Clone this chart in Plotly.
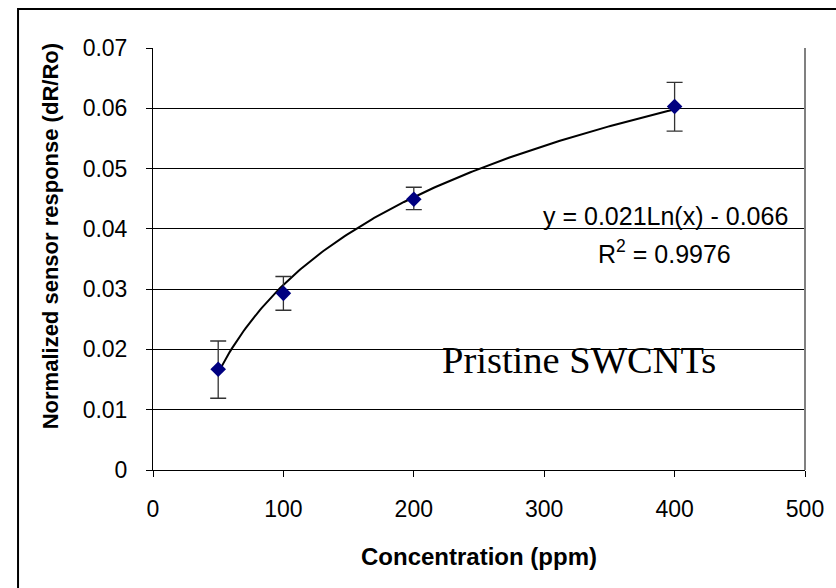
import numpy as np
import plotly.graph_objects as go

conc = [50, 100, 200, 400]
response = [0.0167, 0.0293, 0.0449, 0.0603]
err_plus = [0.0047, 0.0028, 0.0020, 0.0040]
err_minus = [0.0048, 0.0028, 0.0017, 0.0041]
fit_a = 0.021
fit_b = -0.066
y_ticks = [0, 0.01, 0.02, 0.03, 0.04, 0.05, 0.06, 0.07]
y_labels = ["0", "0.01", "0.02", "0.03", "0.04", "0.05", "0.06", "0.07"]
x_ticks = [0, 100, 200, 300, 400, 500]

fx = np.linspace(min(conc), max(conc), 200)
fy = fit_a * np.log(fx) + fit_b

fig = go.Figure()
fig.add_trace(go.Scatter(x=fx, y=fy, mode="lines",
                         line=dict(color="black", width=2), showlegend=False,
                         hoverinfo="skip"))
fig.add_trace(go.Scatter(
    x=conc, y=response, mode="markers",
    marker=dict(symbol="diamond", size=12, color="#000080"),
    error_y=dict(type="data", symmetric=False, array=err_plus,
                 arrayminus=err_minus, color="#333333", thickness=1.3, width=8),
    showlegend=False))

font_main = "Liberation Sans, Arial, sans-serif"
fig.update_layout(
    width=836, height=588,
    margin=dict(l=153, r=27, t=48, b=118),
    paper_bgcolor="white", plot_bgcolor="white",
    font=dict(family=font_main, size=23, color="black"),
    xaxis=dict(range=[0, 500], tickvals=x_ticks, ticks="outside", ticklen=6,
               tickcolor="black", showline=True, linecolor="black", linewidth=1,
               showgrid=False, zeroline=False, ticklabelstandoff=12,
               tickfont=dict(size=23)),
    yaxis=dict(range=[0, 0.07], tickvals=y_ticks, ticktext=y_labels,
               ticks="outside", ticklen=6, tickcolor="black",
               showline=True, linecolor="black", linewidth=1,
               showgrid=True, gridcolor="black", gridwidth=1, zeroline=False,
               ticklabelstandoff=14, tickfont=dict(size=23)),
    shapes=[
        dict(type="line", xref="paper", yref="paper", x0=1, x1=1, y0=0, y1=1,
             line=dict(color="#808080", width=2)),
        dict(type="rect", xref="paper", yref="paper", x0=-0.207, x1=1.2,
             y0=-0.5, y1=1.0924, line=dict(color="black", width=2)),
    ],
    annotations=[
        dict(x=0.5, y=-0.206, xref="paper", yref="paper", xanchor="center",
             yanchor="middle", showarrow=False,
             text="<b>Concentration (ppm)</b>", font=dict(size=24)),
        dict(x=-0.157, y=0.553, xref="paper", yref="paper", xanchor="center",
             yanchor="middle", showarrow=False, textangle=-90,
             text="<b>Normalized sensor response (dR/Ro)</b>", font=dict(size=22)),
        dict(x=0.977, y=0.0421, xref="paper", yref="y", xanchor="right",
             yanchor="middle", showarrow=False,
             text="y = 0.021Ln(x) - 0.066", font=dict(size=25)),
        dict(x=0.785, y=0.0362, xref="paper", yref="y", xanchor="center",
             yanchor="middle", showarrow=False,
             text="R<sup>2</sup> = 0.9976", font=dict(size=25)),
        dict(x=0.654, y=0.0182, xref="paper", yref="y", xanchor="center",
             yanchor="middle", showarrow=False, text="Pristine SWCNTs",
             font=dict(size=38.5, family="Liberation Serif, Times New Roman, serif")),
    ],
)

fig.write_html("out.html")
